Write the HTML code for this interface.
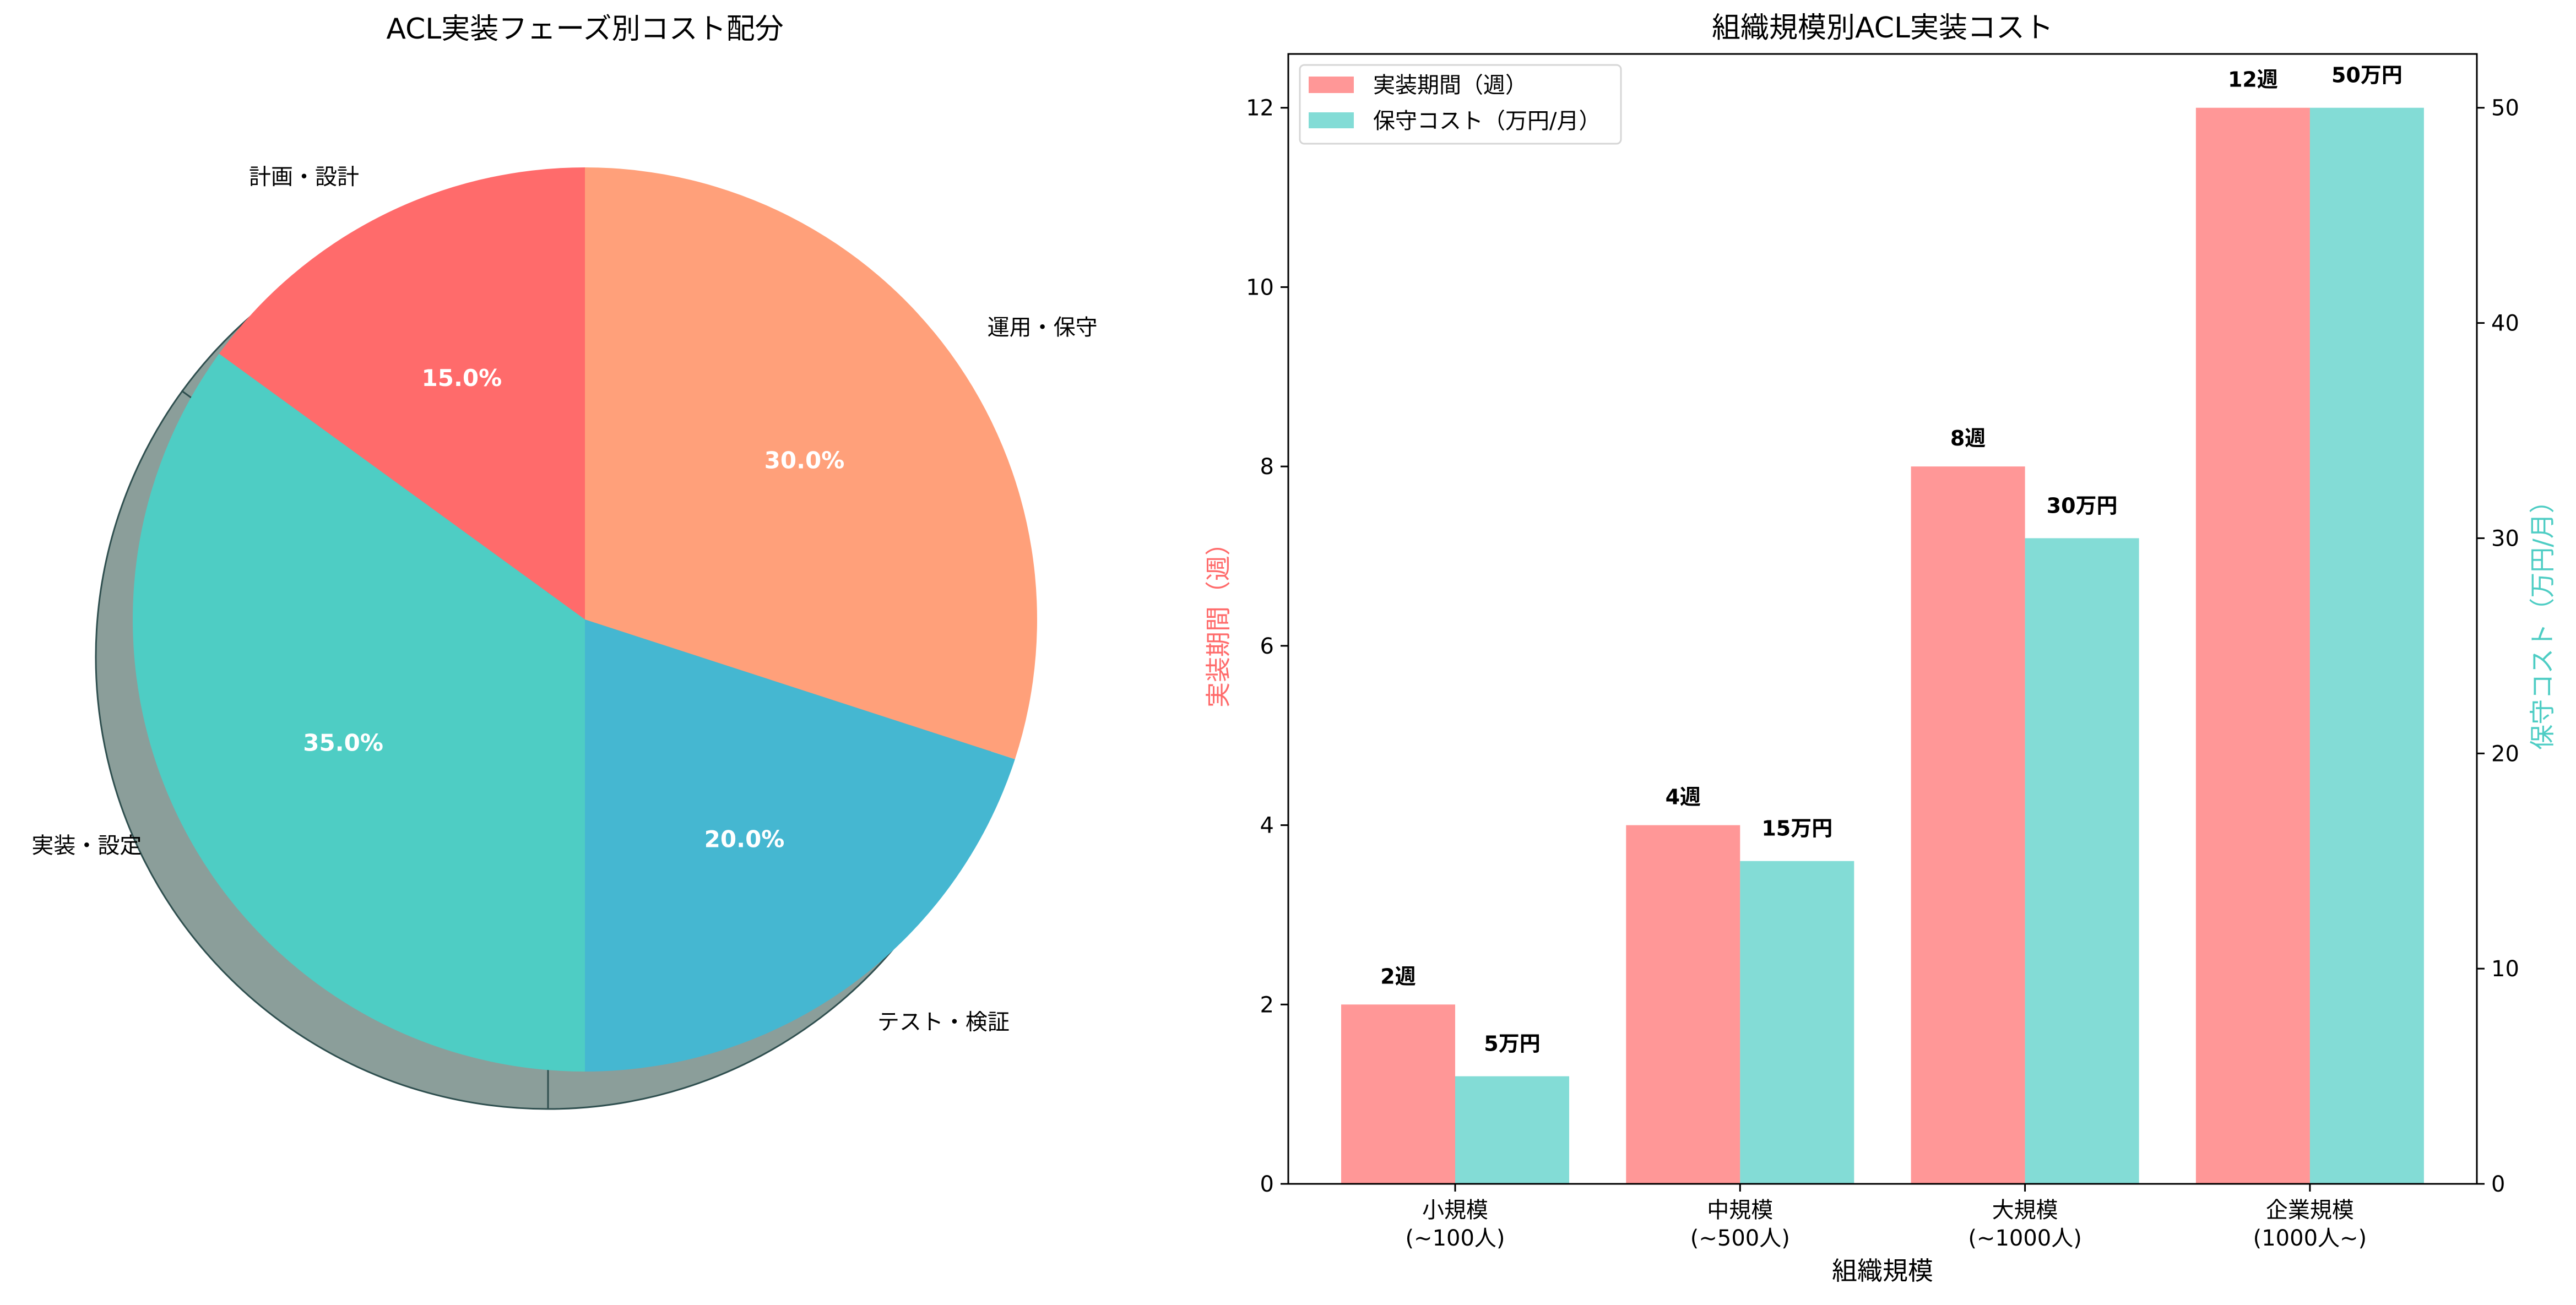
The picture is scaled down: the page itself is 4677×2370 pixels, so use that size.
<!DOCTYPE html>
<html><head><meta charset="utf-8"><style>
html,body{margin:0;padding:0;background:#fff}
svg{display:block}
text{font-family:"DejaVu Sans","Liberation Sans","Noto Sans CJK JP",sans-serif}
</style></head><body>
<svg id="fig" xmlns="http://www.w3.org/2000/svg" width="4677" height="2370" viewBox="0 0 4677 2370">
<rect width="4677" height="2370" fill="#fff"/>
<g id="pie"></g>
<g id="bar"></g>
</svg>
<script>
// ---- pie data ----
const pieLabels = ["計画・設計","実装・設定","テスト・検証","運用・保守"];
const pieValues = [15, 35, 20, 30];
const pieColors = ["#FF6B6B","#4ECDC4","#45B7D1","#FFA07A"];
// ---- bar data ----
const barCategories = ["小規模\n(~100人)","中規模\n(~500人)","大規模\n(~1000人)","企業規模\n(1000人~)"];
const weeksValues = [2, 4, 8, 12];
const costValues = [5, 15, 30, 50];
const leftTicks = [0, 2, 4, 6, 8, 10, 12];
const rightTicks = [0, 10, 20, 30, 40, 50];

const NS = "http://www.w3.org/2000/svg";
function mk(tag, attrs, parent, txt) {
  const e = document.createElementNS(NS, tag);
  for (const k in attrs) e.setAttribute(k, attrs[k]);
  if (txt !== undefined) e.textContent = txt;
  parent.appendChild(e);
  return e;
}

// ===== PIE =====
const pie = document.getElementById("pie");
const cx = 1062, cy = 1125, R = 821, sdx = -67, sdy = 68;
let t = mk("text", {x: cx, y: 70, "font-size": 52, "text-anchor": "middle"}, pie, "ACL実装フェーズ別コスト配分");


const total = pieValues.reduce((a, b) => a + b, 0);
function wedgePath(x0, y0, a0, a1) {
  const r0 = a0 * Math.PI / 180, r1 = a1 * Math.PI / 180;
  const x1 = x0 + R * Math.cos(r0), y1 = y0 - R * Math.sin(r0);
  const x2 = x0 + R * Math.cos(r1), y2 = y0 - R * Math.sin(r1);
  const large = (a1 - a0) > 180 ? 1 : 0;
  return `M${x0},${y0} L${x1},${y1} A${R},${R} 0 ${large} 0 ${x2},${y2} Z`;
}
// shadow
let ang = 90;
pieValues.forEach((v, i) => {
  const a1 = ang + v / total * 360;
  const s = mk("path", {d: wedgePath(cx + sdx, cy + sdy, ang, a1), fill: "#8b9e9a", stroke: "#2f4f4f", "stroke-width": 3}, pie);
  
  
  ang = a1;
});
ang = 90;
pieValues.forEach((v, i) => {
  const a1 = ang + v / total * 360;
  const p = mk("path", {d: wedgePath(cx, cy, ang, a1), fill: pieColors[i]}, pie);
  
  
  const mid = (ang + a1) / 2 * Math.PI / 180;
  const lx = cx + 1.1 * R * Math.cos(mid), ly = cy - 1.1 * R * Math.sin(mid);
  const l = mk("text", {x: lx, y: ly + 14, "font-size": 40, "text-anchor": Math.cos(mid) >= 0 ? "start" : "end"}, pie, pieLabels[i]);
  
  
  const px = cx + 0.6 * R * Math.cos(mid), py = cy - 0.6 * R * Math.sin(mid);
  const pc = mk("text", {x: px, y: py + 15, "font-size": 42, "font-weight": "bold", fill: "#fff", "text-anchor": "middle"}, pie, (v / total * 100).toFixed(1) + "%");
  
  
  ang = a1;
});

// ===== BAR =====
const bar = document.getElementById("bar");
const L = 2339, Rt = 4497, T = 98, B = 2150;
const yMaxL = 12.6, yMaxR = 52.5;
const yL = v => B - v / yMaxL * (B - T);
const yR = v => B - v / yMaxR * (B - T);
const xC = i => 2642 + 517.3 * i;
const bw = 207;
t = mk("text", {x: (L + Rt) / 2, y: 68, "font-size": 52, "text-anchor": "middle"}, bar, "組織規模別ACL実装コスト");


weeksValues.forEach((v, i) => {
  const r = mk("rect", {x: xC(i) - bw, y: yL(v), width: bw, height: B - yL(v), fill: "#FF6B6B", "fill-opacity": 0.7}, bar);
  
  
  const tx = mk("text", {x: xC(i) - bw / 2, y: yL(v) - 38, "font-size": 38, "font-weight": "bold", "text-anchor": "middle"}, bar, v + "週");
  
  
});
costValues.forEach((v, i) => {
  const r = mk("rect", {x: xC(i), y: yR(v), width: bw, height: B - yR(v), fill: "#4ECDC4", "fill-opacity": 0.7}, bar);
  
  
  const tx = mk("text", {x: xC(i) + bw / 2, y: yR(v) - 46, "font-size": 38, "font-weight": "bold", "text-anchor": "middle"}, bar, v + "万円");
  
  
});
// frame
const fr = mk("rect", {x: L, y: T, width: Rt - L, height: B - T, fill: "none", stroke: "#000", "stroke-width": 3}, bar);


leftTicks.forEach(v => {
  const ln = mk("line", {x1: L - 14, x2: L, y1: yL(v), y2: yL(v), stroke: "#000", "stroke-width": 3}, bar);
  
  
  const tx = mk("text", {x: L - 26, y: yL(v) + 14, "font-size": 40, "text-anchor": "end"}, bar, v);
  
  
});
rightTicks.forEach(v => {
  const ln = mk("line", {x1: Rt, x2: Rt + 14, y1: yR(v), y2: yR(v), stroke: "#000", "stroke-width": 3}, bar);
  
  
  const tx = mk("text", {x: Rt + 26, y: yR(v) + 14, "font-size": 40, "text-anchor": "start"}, bar, v);
  
  
});
barCategories.forEach((c, i) => {
  const ln = mk("line", {x1: xC(i), x2: xC(i), y1: B, y2: B + 14, stroke: "#000", "stroke-width": 3}, bar);
  
  
  c.split("\n").forEach((part, j) => {
    const tx = mk("text", {x: xC(i), y: 2211 + j * 51, "font-size": 40, "text-anchor": "middle"}, bar, part);
    
    
  });
});
t = mk("text", {x: (L + Rt) / 2, y: 2324, "font-size": 46, "text-anchor": "middle"}, bar, "組織規模");


t = mk("text", {x: 0, y: 0, "font-size": 46, "text-anchor": "middle", fill: "#FF6B6B", transform: `translate(2228,1124) rotate(-90)`}, bar, "実装期間（週）");


t = mk("text", {x: 0, y: 0, "font-size": 46, "text-anchor": "middle", fill: "#4ECDC4", transform: `translate(4632,1124) rotate(-90)`}, bar, "保守コスト（万円/月）");


// legend
const lg = mk("g", {}, bar);


mk("rect", {x: 2360, y: 118, width: 583, height: 143, rx: 8, fill: "#fff", "fill-opacity": 0.8, stroke: "#d6d6d6", "stroke-width": 3}, lg);
let e = mk("rect", {x: 2376, y: 139, width: 82, height: 30, fill: "#FF6B6B", "fill-opacity": 0.7}, lg);


e = mk("text", {x: 2493, y: 168, "font-size": 40}, lg, "実装期間（週）");


e = mk("rect", {x: 2376, y: 204, width: 82, height: 29, fill: "#4ECDC4", "fill-opacity": 0.7}, lg);


e = mk("text", {x: 2493, y: 233, "font-size": 40}, lg, "保守コスト（万円/月）");


</script>
</body></html>
